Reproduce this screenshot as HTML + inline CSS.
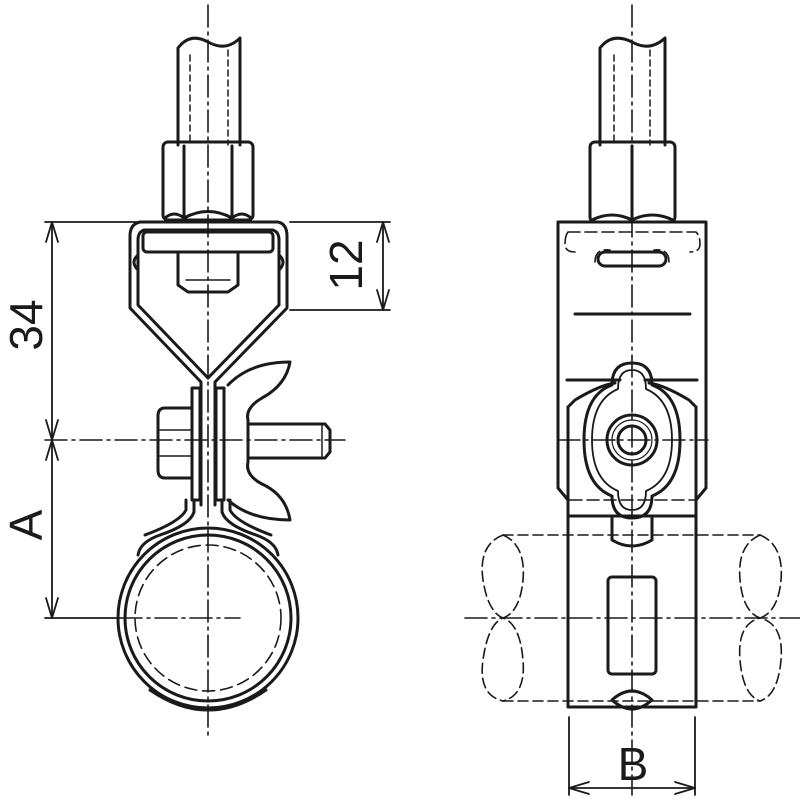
<!DOCTYPE html>
<html><head><meta charset="utf-8"><style>html,body{margin:0;padding:0;background:#fff}svg{display:block}</style></head>
<body>
<svg width="800" height="800" viewBox="0 0 800 800" xmlns="http://www.w3.org/2000/svg" fill="none" stroke="#1a1a1a" stroke-linecap="round" stroke-linejoin="round">
<!-- ================= LEFT VIEW ================= -->
<!-- center lines -->
<g stroke-width="1.6" stroke-dasharray="22,5,3,5">
<line x1="208" y1="5" x2="208" y2="735"/>
<line x1="45" y1="440" x2="345" y2="440"/>
<line x1="120" y1="618" x2="240" y2="618"/>
</g>
<!-- rod -->
<g stroke-width="3">
<path d="M178 145 V48 Q190 32 208 42 Q226 52 240 38 V145"/>
</g>
<g stroke-width="1.5" stroke-dasharray="6,4"><line x1="190" y1="55" x2="190" y2="145"/><line x1="228" y1="50" x2="228" y2="145"/></g>
<!-- nut -->
<g stroke-width="3">
<rect x="163" y="142" width="90" height="78" rx="5"/>
<line x1="184" y1="146" x2="184" y2="218"/><line x1="232" y1="146" x2="232" y2="218"/>
<path d="M165 218 Q174 210 184 218 Q208 205 232 218 Q242 210 251 218"/>
</g>
<!-- bracket -->
<g stroke-width="3">
<path d="M140 222 H278 Q287 224 287 236 V308 L215 382 V420"/>
<path d="M140 222 Q130 224 130 236 V308 L201 382 V420"/>
<path d="M144 230 H273 Q279 232 279 240 V305 L208 378"/>
<path d="M144 230 Q138 232 138 240 V305 L208 378"/>
<rect x="143" y="232" width="130" height="20" rx="4"/>
<path d="M178 252 V285 L188 292 H228 L238 285 V252"/>
<line x1="186" y1="280" x2="230" y2="280" stroke-width="1.5"/>
<path d="M138 255 Q130 262 138 270"/><path d="M279 255 Q287 262 279 270"/>
</g>
<!-- bolt, plates -->
<g stroke-width="3">
<path d="M165 408 H192 V478 H165 Q158 478 158 470 V416 Q158 408 165 408 Z"/>
<line x1="160" y1="430" x2="192" y2="430" stroke-width="1.5"/><line x1="160" y1="456" x2="192" y2="456" stroke-width="1.5"/>
<rect x="192" y="388" width="8" height="112"/>
<rect x="216" y="388" width="8" height="112"/>
<line x1="201" y1="385" x2="201" y2="505"/><line x1="215" y1="385" x2="215" y2="505"/>
<!-- wing nut -->
<path d="M228 385 Q250 362 290 362 Q286 385 262 398 Q245 408 248 420 V462 Q245 475 262 484 Q286 495 290 520 Q250 520 228 500"/>
<!-- stud -->
<path d="M250 424 H325 L330 430 V452 L325 458 H250"/>
<line x1="322" y1="426" x2="322" y2="456" stroke-width="1.5"/>
</g>
<!-- ring -->
<g stroke-width="3">
<path d="M194 500 V512 Q190 525 160 535 Q140 542 138 555"/>
<path d="M222 500 V512 Q226 525 256 535 Q276 542 278 555"/>
<path d="M186 500 V510 Q180 522 145 535"/>
<path d="M230 500 V510 Q236 522 271 535"/>
<circle cx="208" cy="618" r="90"/>
<circle cx="208" cy="618" r="83"/>
<path d="M150 690 Q208 730 266 690"/>
</g>
<circle cx="208" cy="618" r="73" stroke-width="1.6" stroke-dasharray="12,6"/>
<!-- dimensions left -->
<g stroke-width="1.8">
<line x1="45" y1="222" x2="160" y2="222"/>
<line x1="290" y1="222" x2="390" y2="222"/>
<line x1="290" y1="310" x2="390" y2="310"/>
<line x1="45" y1="618" x2="120" y2="618"/>
<line x1="52" y1="222" x2="52" y2="618"/>
<line x1="383" y1="222" x2="383" y2="310"/>
<path d="M46 242 L52 222 L58 242"/>
<path d="M46 420 L52 440 L58 420"/>
<path d="M46 460 L52 440 L58 460"/>
<path d="M46 598 L52 618 L58 598"/>
<path d="M377 242 L383 222 L389 242"/>
<path d="M377 290 L383 310 L389 290"/>
</g>
<g fill="#1a1a1a" stroke="none" font-family="Liberation Sans, sans-serif" font-size="46" text-anchor="middle">
<text transform="translate(42,325) rotate(-90)">34</text>
<text transform="translate(42,525) rotate(-90)">A</text>
<text transform="translate(362,265) rotate(-90)">12</text>
<text x="633" y="780">B</text>
</g>

<!-- ================= RIGHT VIEW ================= -->
<g stroke-width="1.6" stroke-dasharray="22,5,3,5">
<line x1="632" y1="5" x2="632" y2="795"/>
<line x1="465" y1="618" x2="800" y2="618"/>
<line x1="558" y1="440" x2="708" y2="440"/>
</g>
<!-- pipe -->
<g stroke-width="1.6" stroke-dasharray="10,5">
<line x1="503" y1="535" x2="760" y2="535"/>
<line x1="503" y1="701" x2="760" y2="701"/>
<path d="M503 535 Q478 545 483 580 Q488 612 503 618 Q488 624 483 660 Q478 695 503 701"/>
<path d="M503 535 Q526 545 523 580 Q520 612 503 618 Q520 624 523 660 Q526 695 503 701"/>
<path d="M760 535 Q784 545 781 580 Q778 612 760 618 Q784 624 781 660 Q778 695 760 701"/>
<path d="M760 535 Q737 545 740 580 Q743 612 760 618 Q737 624 740 660 Q743 695 760 701"/>
</g>
<!-- rod -->
<g stroke-width="3">
<path d="M600 145 V48 Q612 32 632 42 Q650 52 665 38 V145"/>
</g>
<g stroke-width="1.5" stroke-dasharray="6,4"><line x1="614" y1="55" x2="614" y2="145"/><line x1="650" y1="50" x2="650" y2="145"/></g>
<g stroke-width="3">
<rect x="590" y="142" width="85" height="80" rx="5"/>
<line x1="632" y1="146" x2="632" y2="218"/>
<path d="M592 220 Q612 210 632 220 Q652 210 673 220"/>
</g>
<!-- body -->
<g stroke-width="3">
<path d="M558 222 H706 V488 L696 500"/>
<path d="M558 222 V488 L568 500"/>
<path d="M568 407 V707 H696 V407"/>
<path d="M568 407 L575 400 Q600 385 615 383"/>
<path d="M696 407 L689 400 Q664 385 649 383"/>
<line x1="575" y1="314" x2="690" y2="314"/>
<line x1="567" y1="380" x2="620" y2="380"/><line x1="645" y1="380" x2="697" y2="380"/>
<line x1="568" y1="516" x2="696" y2="516"/>
<rect x="598" y="252" width="68" height="14" rx="7"/>
<!-- wing nut front -->
<path d="M612 385 Q612 363 632 363 Q652 363 652 385 Q680 395 680 440 Q680 485 652 496 Q652 518 632 518 Q612 518 612 496 Q584 485 584 440 Q584 395 612 385 Z"/>
<path d="M618 389 Q618 370 632 370 Q646 370 646 389 Q672 400 672 440 Q672 480 646 491 Q646 510 632 510 Q618 510 618 491 Q592 480 592 440 Q592 400 618 389 Z" stroke-width="1.8"/>
<circle cx="632" cy="440" r="25"/>
<circle cx="632" cy="440" r="14"/>
<circle cx="632" cy="440" r="20" stroke-width="1.2"/>
<path d="M612 516 V540 Q632 552 652 540 V516"/>
<rect x="608" y="577" width="48" height="97" rx="4"/>
<path d="M612 700 Q632 682 652 700 Q632 718 612 700 Z"/>
</g>
<g stroke-width="1.6" stroke-dasharray="12,5">
<path d="M568 232 H696 Q700 236 700 244 Q700 252 690 252 M568 232 Q565 236 565 244 Q565 252 575 252"/>
<line x1="570" y1="500" x2="694" y2="500"/>
<path d="M595 262 Q595 248 610 250 M669 262 Q669 248 654 250"/>
</g>
<!-- dimension B -->
<g stroke-width="1.8">
<line x1="569" y1="717" x2="569" y2="795"/>
<line x1="695" y1="717" x2="695" y2="795"/>
<line x1="569" y1="788" x2="695" y2="788"/>
<path d="M589 782 L569 788 L589 794"/>
<path d="M675 782 L695 788 L675 794"/>
</g>
</svg>
</body></html>
